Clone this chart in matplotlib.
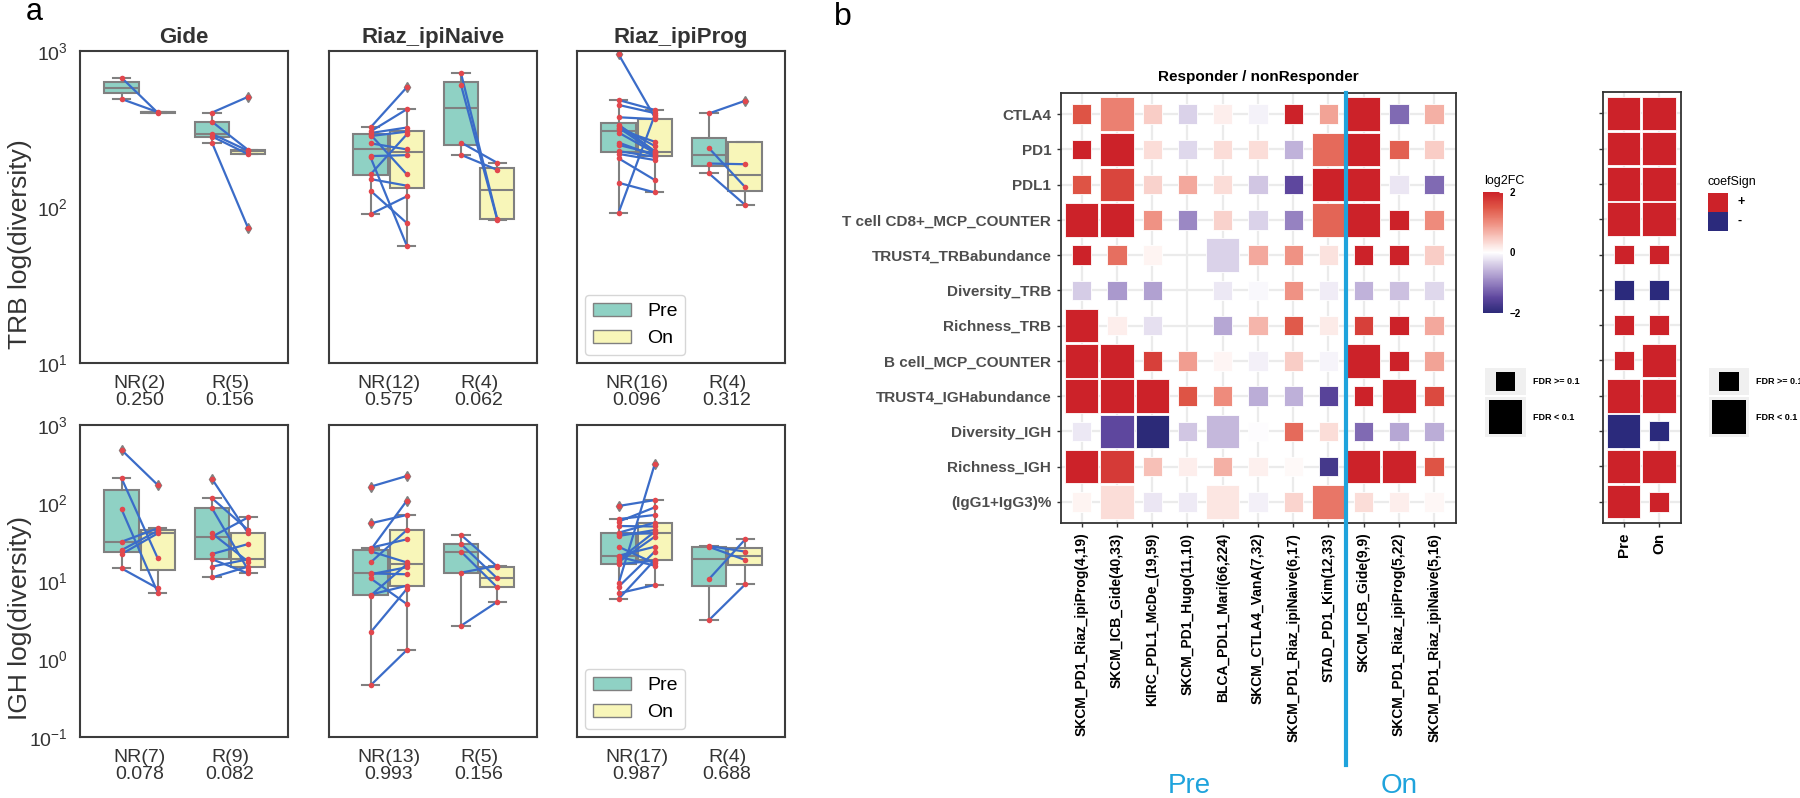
import numpy as np
import matplotlib
matplotlib.use("Agg")
import matplotlib.pyplot as plt
import matplotlib.cm as cm
from matplotlib.patches import Rectangle, Patch
from matplotlib.colors import LinearSegmentedColormap, Normalize
from matplotlib.ticker import NullLocator

plt.rcParams['font.family'] = ['Liberation Sans', 'DejaVu Sans']

W, H = 1800, 798

# ---------------- panel a: paired diversity values (pre[i] <-> on[i]) ----------------
gide_trb_nr_pre = [674, 492]
gide_trb_nr_on = [402, 406]
gide_trb_r_pre = [403, 352, 294, 283, 258]
gide_trb_r_on = [509, 232, 229, 218, 73]

naive_trb_nr_pre = [324, 305, 298, 291, 285, 256, 212, 208, 162, 151, 127, 90]
naive_trb_nr_on = [585, 423, 323, 162, 304, 234, 215, 56.5, 292, 137, 79, 117]
naive_trb_r_pre = [719, 605, 259, 216]
naive_trb_r_on = [84, 83, 192, 173]

prog_trb_nr_pre = [952, 485, 451, 376, 337, 330, 323, 315, 300, 259, 250, 228, 219, 205, 143, 92]
prog_trb_nr_on = [376, 419, 400, 366, 228, 246, 224, 262, 222, 213, 219, 210, 200, 149, 124, 389]
prog_trb_r_pre = [398, 238, 190, 164]
prog_trb_r_on = [480, 134, 188, 103]

gide_igh_nr_pre = [478, 207, 83, 31.9, 24.9, 22.2, 14.5]
gide_igh_nr_on = [170, 19.5, 7.08, 47.3, 44.1, 40.8, 8.05]
gide_igh_r_pre = [203, 115, 85.5, 40.8, 37, 22.2, 19, 15.3, 11.1]
gide_igh_r_on = [40.8, 45, 13.8, 17.7, 65.5, 29.8, 12.5, 19, 15.3]

naive_igh_nr_pre = [162, 54.9, 26.7, 25, 24, 17.3, 12.5, 12.2, 10.8, 6.7, 6.5, 2.2, 0.46]
naive_igh_nr_on = [222, 70.2, 34.2, 107, 17.3, 45, 12.2, 15, 5.07, 8.7, 16.4, 7.9, 1.3]
naive_igh_r_pre = [38.9, 29.8, 23.8, 12.8, 2.67]
naive_igh_r_on = [15.3, 10.8, 8.3, 15.7, 5.4]

prog_igh_nr_pre = [91.6, 62.3, 57.7, 50.7, 41.6, 40, 37.8, 27.5, 21.1, 20.5, 18.6, 17.5, 16.4, 9.3, 8.45, 6.95, 5.88]
prog_igh_nr_on = [109, 70.2, 88, 50, 56, 40.8, 45, 16.8, 27.5, 15.7, 42.9, 37, 18.2, 316, 23.8, 8.9, 18.6]
prog_igh_r_pre = [28.1, 27.4, 10.6, 3.16]
prog_igh_r_on = [23.8, 18.6, 34.2, 9.06]

cohorts = ['Gide', 'Riaz_ipiNaive', 'Riaz_ipiProg']
trb_xlabels = [['NR(2)\n0.250', 'R(5)\n0.156'], ['NR(12)\n0.575', 'R(4)\n0.062'], ['NR(16)\n0.096', 'R(4)\n0.312']]
igh_xlabels = [['NR(7)\n0.078', 'R(9)\n0.082'], ['NR(13)\n0.993', 'R(5)\n0.156'], ['NR(17)\n0.987', 'R(4)\n0.688']]

# ---------------- panel b: log2FC heatmap ----------------
features = ['CTLA4', 'PD1', 'PDL1', 'T cell CD8+_MCP_COUNTER', 'TRUST4_TRBabundance', 'Diversity_TRB',
            'Richness_TRB', 'B cell_MCP_COUNTER', 'TRUST4_IGHabundance', 'Diversity_IGH', 'Richness_IGH',
            '(IgG1+IgG3)%']
studies = ['SKCM_PD1_Riaz_ipiProg(4,19)', 'SKCM_ICB_Gide(40,33)', 'KIRC_PDL1_McDe_(19,59)',
           'SKCM_PD1_Hugo(11,10)', 'BLCA_PDL1_Mari(66,224)', 'SKCM_CTLA4_VanA(7,32)',
           'SKCM_PD1_Riaz_ipiNaive(6,17)', 'STAD_PD1_Kim(12,33)', 'SKCM_ICB_Gide(9,9)',
           'SKCM_PD1_Riaz_ipiProg(5,22)', 'SKCM_PD1_Riaz_ipiNaive(5,16)']
nan = np.nan
log2fc = [
    [1.5, 1.1, 0.45, -0.35, 0.15, -0.1, 2.0, 0.8, 2.0, -1.2, 0.7],
    [2.0, 2.0, 0.3, -0.3, 0.3, 0.3, -0.6, 1.3, 2.0, 1.4, 0.45],
    [1.5, 1.65, 0.4, 0.75, 0.3, -0.45, -1.5, 2.0, 2.0, -0.2, -1.2],
    [2.0, 2.0, 0.95, -0.95, 0.4, -0.35, -1.0, 1.35, 2.0, 2.0, 1.0],
    [2.0, 1.25, 0.1, nan, -0.35, 0.75, 0.95, 0.25, 2.0, 2.0, 0.45],
    [-0.4, -0.8, -0.75, nan, -0.18, -0.05, 0.95, -0.15, -0.6, -0.5, -0.3],
    [2.0, 0.15, -0.25, nan, -0.7, 0.65, 1.45, 0.18, 1.7, 2.0, 0.75],
    [2.0, 2.0, 1.7, 0.85, 0.08, -0.12, 0.45, -0.08, 2.0, 2.0, 0.8],
    [2.0, 2.0, 2.0, 1.5, 1.0, -0.65, -0.62, -1.55, 2.0, 2.0, 1.6],
    [-0.18, -1.5, -2.0, -0.45, -0.55, -0.03, 1.3, 0.3, -1.2, -0.7, -0.65],
    [2.0, 1.75, 0.55, 0.15, 0.7, 0.13, 0.05, -1.75, 2.0, 2.0, 1.5],
    [0.1, 0.3, -0.2, -0.17, 0.22, -0.12, 0.38, 1.2, 0.3, 0.15, 0.07],
]
fdr_sig = [
    [0, 1, 0, 0, 0, 0, 0, 0, 1, 0, 0],
    [0, 1, 0, 0, 0, 0, 0, 1, 1, 0, 0],
    [0, 1, 0, 0, 0, 0, 0, 1, 1, 0, 0],
    [1, 1, 0, 0, 0, 0, 0, 1, 1, 0, 0],
    [0, 0, 0, 0, 1, 0, 0, 0, 0, 0, 0],
    [0, 0, 0, 0, 0, 0, 0, 0, 0, 0, 0],
    [1, 0, 0, 0, 0, 0, 0, 0, 0, 0, 0],
    [1, 1, 0, 0, 0, 0, 0, 0, 1, 0, 0],
    [1, 1, 1, 0, 0, 0, 0, 0, 0, 1, 0],
    [0, 1, 1, 0, 1, 0, 0, 0, 0, 0, 0],
    [1, 1, 0, 0, 0, 0, 0, 0, 1, 1, 0],
    [0, 1, 0, 0, 1, 0, 0, 1, 0, 0, 0],
]
phases = ['Pre', 'On']
coef_sign = [[1, 1], [1, 1], [1, 1], [1, 1], [1, 1], [-1, -1], [1, 1], [1, 1], [1, 1], [-1, -1], [1, 1], [1, 1]]
coef_sig = [[1, 1], [1, 1], [1, 1], [1, 1], [0, 0], [0, 0], [0, 0], [0, 1], [1, 1], [1, 0], [1, 1], [1, 0]]

PRE_COLOR = '#8fd1c4'
ON_COLOR = '#f8f6b9'
BOX_EDGE = '#808080'
DOT_RED = '#e2474d'
LINE_BLUE = '#3b6cc8'
RED = '#cc2229'
NAVY = '#2b2a7c'
CYAN = '#1fa3dc'
SMALL, BIG = 0.55, 0.945

cmap = LinearSegmentedColormap.from_list('l2fc', [
    (0.0, '#2c2a78'), (0.125, '#5e479e'), (0.25, '#9682c1'), (0.375, '#cbbfe0'), (0.5, '#ffffff'),
    (0.625, '#f8c7bf'), (0.75, '#ee8c7d'), (0.875, '#df5546'), (1.0, RED)])
norm = Normalize(-2, 2)

fig = plt.figure(figsize=(W / 100, H / 100), dpi=100)


def px_axes(x0, y0, x1, y1):
    return fig.add_axes([x0 / W, 1 - y1 / H, (x1 - x0) / W, (y1 - y0) / H])


def ftext(x, y, s, **kw):
    fig.text(x / W, 1 - y / H, s, **kw)


def frect(x0, y0, x1, y1, color):
    fig.add_artist(Rectangle((x0 / W, 1 - y1 / H), (x1 - x0) / W, (y1 - y0) / H,
                             transform=fig.transFigure, facecolor=color, edgecolor='none'))


def draw_pairs(ax, groups, xlabels, ylim):
    for gi, (pre, on) in enumerate(groups):
        ax.boxplot([pre, on], positions=[gi - 0.2, gi + 0.2], widths=0.38, patch_artist=True,
                   whis=1.5, manage_ticks=False,
                   boxprops=dict(edgecolor=BOX_EDGE, linewidth=1.5),
                   whiskerprops=dict(color=BOX_EDGE, linewidth=1.5),
                   capprops=dict(color=BOX_EDGE, linewidth=1.5),
                   medianprops=dict(color=BOX_EDGE, linewidth=1.5),
                   flierprops=dict(marker='d', markerfacecolor=BOX_EDGE, markeredgecolor=BOX_EDGE,
                                   markersize=5))['boxes'][0].set_facecolor(PRE_COLOR)
        ax.patches[-1].set_facecolor(ON_COLOR)
        for a, b in zip(pre, on):
            ax.plot([gi - 0.2, gi + 0.2], [a, b], color=LINE_BLUE, lw=1.6, zorder=4)
        ax.scatter([gi - 0.2] * len(pre), pre, s=16, color=DOT_RED, zorder=5, linewidths=0)
        ax.scatter([gi + 0.2] * len(on), on, s=16, color=DOT_RED, zorder=5, linewidths=0)
    ax.set_yscale('log')
    ax.set_ylim(*ylim)
    ax.set_xlim(-0.66, 1.64)
    ax.yaxis.set_minor_locator(NullLocator())
    ax.set_xticks([0, 1])
    ax.set_xticklabels(xlabels, fontsize=14, linespacing=0.95, color='#333333')
    ax.tick_params(length=0, pad=9, labelsize=14, labelcolor='#333333')
    for sp in ax.spines.values():
        sp.set_color('#3c3c3c')
        sp.set_linewidth(1.5)


col_x = [(80, 288), (329, 537), (577, 785)]
rows_a = [
    ((51, 363), (10, 1000), 'TRB log(diversity)', trb_xlabels,
     [[(gide_trb_nr_pre, gide_trb_nr_on), (gide_trb_r_pre, gide_trb_r_on)],
      [(naive_trb_nr_pre, naive_trb_nr_on), (naive_trb_r_pre, naive_trb_r_on)],
      [(prog_trb_nr_pre, prog_trb_nr_on), (prog_trb_r_pre, prog_trb_r_on)]]),
    ((425, 737), (0.1, 1000), 'IGH log(diversity)', igh_xlabels,
     [[(gide_igh_nr_pre, gide_igh_nr_on), (gide_igh_r_pre, gide_igh_r_on)],
      [(naive_igh_nr_pre, naive_igh_nr_on), (naive_igh_r_pre, naive_igh_r_on)],
      [(prog_igh_nr_pre, prog_igh_nr_on), (prog_igh_r_pre, prog_igh_r_on)]]),
]

for ri, (ys, ylim, ylabel, xlabels, groups_by_cohort) in enumerate(rows_a):
    for ci in range(3):
        ax = px_axes(col_x[ci][0], ys[0], col_x[ci][1], ys[1])
        draw_pairs(ax, groups_by_cohort[ci], xlabels[ci], ylim)
        if ri == 0:
            ax.set_title(cohorts[ci], fontsize=16, fontweight='bold', color='#333333', pad=6)
        if ci == 0:
            ax.set_ylabel(ylabel, fontsize=19, color='#333333')
            ax.yaxis.set_label_coords(-0.23, 0.38)
        else:
            ax.set_yticklabels([])
        if ci == 2:
            ax.legend(handles=[Patch(facecolor=PRE_COLOR, edgecolor=BOX_EDGE, label='Pre'),
                               Patch(facecolor=ON_COLOR, edgecolor=BOX_EDGE, label='On')],
                      loc='lower left', fontsize=14, borderaxespad=0.4)

ftext(34, 12, 'a', fontsize=22, ha='center', va='center')
ftext(843, 17, 'b', fontsize=23, ha='center', va='center')


# ---------------- panel b ----------------
def draw_tiles(ax, ncol, colors, sig):
    for r in range(len(features)):
        for c in range(ncol):
            col = colors(r, c)
            if col is None:
                continue
            s = BIG if sig[r][c] else SMALL
            ax.add_patch(Rectangle((c - s / 2, r - s / 2), s, s, facecolor=col,
                                   edgecolor='white', lw=0.6, zorder=2))
    ax.set_xlim(-0.59, ncol - 1 + 0.62)
    ax.set_ylim(len(features) - 1 + 0.6, -0.6)
    ax.set_xticks(range(ncol))
    ax.set_yticks(range(len(features)))
    ax.grid(color='#ebebeb', lw=1.6)
    ax.set_axisbelow(True)
    ax.tick_params(length=3, width=1.0, color='#333333', pad=4)
    for sp in ax.spines.values():
        sp.set_color('#333333')
        sp.set_linewidth(1.3)


axh = px_axes(1061, 93, 1456, 523)
draw_tiles(axh, len(studies),
           lambda r, c: None if np.isnan(log2fc[r][c]) else cmap(norm(log2fc[r][c])), fdr_sig)
axh.set_yticklabels(features, fontsize=11, fontweight='bold', color='#4d4d4d')
axh.set_xticklabels(studies, rotation=90, fontsize=10, fontweight='bold', color='black')
axh.set_title('Responder / nonResponder', fontsize=11, fontweight='bold', pad=9)
axh.axvline(7.5, ymin=-0.563, ymax=1, color=CYAN, lw=3, clip_on=False, zorder=6)

ftext(1189, 786, 'Pre', fontsize=20, color=CYAN, ha='center', va='center')
ftext(1399, 786, 'On', fontsize=20, color=CYAN, ha='center', va='center')

axs = px_axes(1603, 92, 1681, 523)
draw_tiles(axs, len(phases), lambda r, c: RED if coef_sign[r][c] > 0 else NAVY, coef_sig)
axs.set_yticklabels([])
axs.set_xticklabels(phases, rotation=90, fontsize=11, fontweight='bold', color='black')

# colorbar for log2FC
cax = px_axes(1483, 192, 1503, 313)
cb = fig.colorbar(cm.ScalarMappable(norm=norm, cmap=cmap), cax=cax, ticks=[-2, 0, 2])
cb.outline.set_visible(False)
cax.tick_params(labelsize=7, length=3, color='white', direction='in', pad=5)
for t in cax.get_yticklabels():
    t.set_fontweight('bold')
ftext(1484, 181, 'log2FC', fontsize=9, ha='left', va='center')

# size legends
unit = 395 / (len(studies) - 1 + 1.21)
for x0, x1, lx in [(1485, 1526, 1533), (1709, 1749, 1756)]:
    frect(x0, 368, x1, 395, '#f0f0f0')
    frect(x0, 397, x1, 437, '#f0f0f0')
    cx = (x0 + x1) / 2
    for cy, s in [(381.5, SMALL), (417, BIG)]:
        half = s * unit / 2
        frect(cx - half, cy - half, cx + half, cy + half, 'black')
    ftext(lx, 381.5, 'FDR >= 0.1', fontsize=6.5, fontweight='bold', va='center')
    ftext(lx, 417, 'FDR < 0.1', fontsize=6.5, fontweight='bold', va='center')

# coefSign legend
ftext(1708, 182, 'coefSign', fontsize=9, va='center')
frect(1708, 193, 1728, 212, RED)
frect(1708, 212, 1728, 231, NAVY)
ftext(1737, 202, '+', fontsize=9, fontweight='bold', va='center')
ftext(1737, 221, '-', fontsize=9, fontweight='bold', va='center')

fig.savefig('out.png', dpi=100)
